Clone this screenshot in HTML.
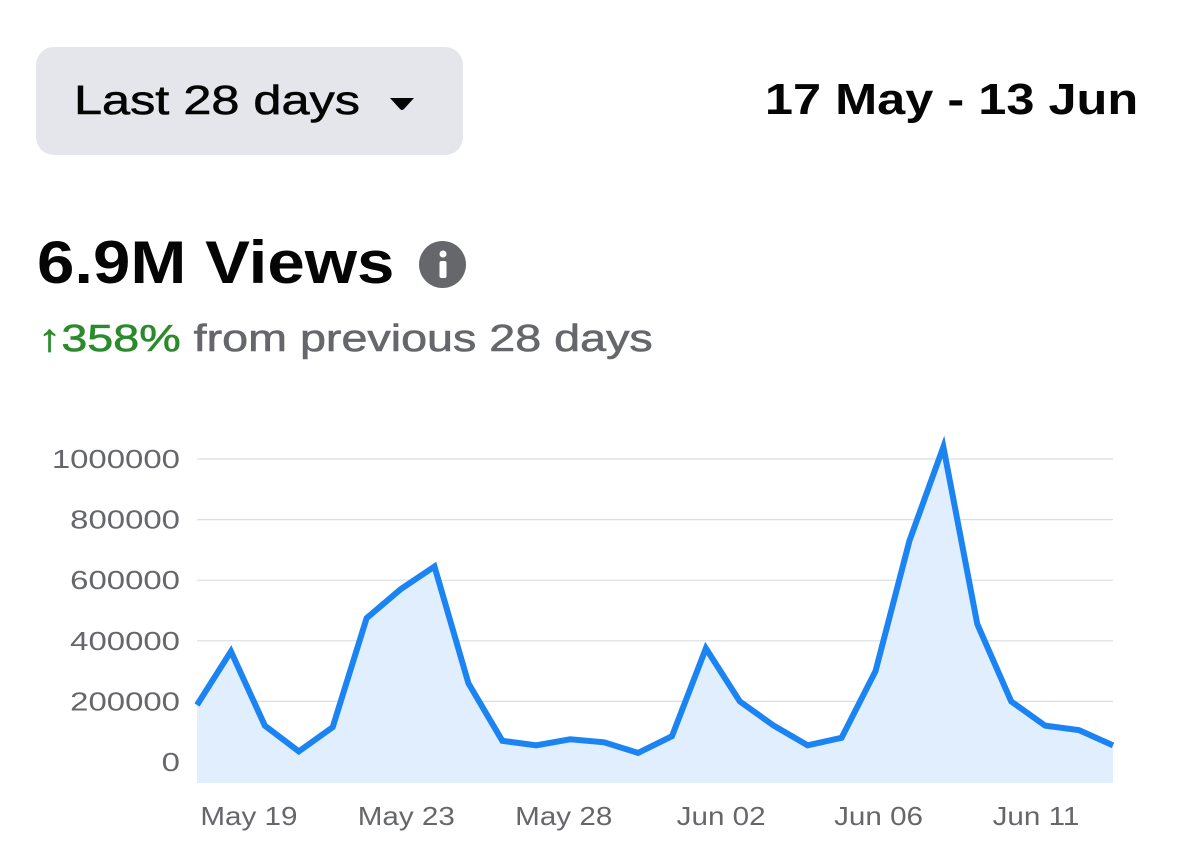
<!DOCTYPE html>
<html><head><meta charset="utf-8"><style>
body{margin:0;width:1179px;height:867px;background:#fff;font-family:"Liberation Sans",sans-serif;position:relative;overflow:hidden}
.abs{position:absolute;white-space:nowrap}
</style></head><body>
<div class="abs" style="left:36px;top:47px;width:427px;height:108px;background:#e4e6eb;border-radius:18px;">
  <span class="abs" style="left:38px;top:30px;font-size:41px;color:#050505;-webkit-text-stroke:0.6px #050505;transform:scaleX(1.23);transform-origin:0 0;">Last 28 days</span>
  <svg class="abs" style="left:352px;top:49px" width="28" height="16"><path d="M2 2 L26 2 L16 13 Q14 15 12 13 Z" fill="#050505"/></svg>
</div>
<div class="abs" style="right:41px;top:75px;font-size:44px;font-weight:bold;color:#050505;transform:scaleX(1.148);transform-origin:100% 0;">17 May - 13 Jun</div>
<div class="abs" style="left:37px;top:228px;font-size:60px;font-weight:bold;color:#050505;transform:scaleX(1.12);transform-origin:0 0;">6.9M Views</div>
<svg class="abs" style="left:419px;top:241px" width="47" height="47"><circle cx="23.5" cy="23.5" r="23.5" fill="#65676b"/><circle cx="24" cy="13" r="3.5" fill="#fff"/><rect x="20.5" y="20" width="7" height="17" rx="2" fill="#fff"/></svg>
<div class="abs" style="left:38px;top:318px;font-size:38px;color:#65676b;-webkit-text-stroke:0.6px #65676b;transform:scaleX(1.228);transform-origin:0 0;"><span style="color:#2b8a2b;-webkit-text-stroke:0.6px #2b8a2b">↑358%</span> from previous 28 days</div>
<svg class="abs" id="chart" style="left:0;top:400px" width="1179" height="467"></svg>
<script>
const categories=["May 17","May 18","May 19","May 20","May 21","May 22","May 23","May 24","May 25","May 26","May 27","May 28","May 29","May 30","May 31","Jun 01","Jun 02","Jun 03","Jun 04","Jun 05","Jun 06","Jun 07","Jun 08","Jun 09","Jun 10","Jun 11","Jun 12","Jun 13"];
const views=[188000,365000,120000,35000,115000,475000,570000,645000,260000,70000,55000,75000,65000,30000,85000,375000,200000,120000,55000,80000,300000,730000,1040000,455000,200000,120000,105000,55000];
const yTicks=[0,200000,400000,600000,800000,1000000];
const xTickLabels=["May 19","May 23","May 28","Jun 02","Jun 06","Jun 11"];
const NS="http://www.w3.org/2000/svg";
const svg=document.getElementById('chart');
const OY=400,x0=197,x1=1113;
const xs=i=>x0+i*(x1-x0)/(categories.length-1);
const ys=v=>762-OY-v/1e6*303;
function mk(t,a){const e=document.createElementNS(NS,t);for(const k in a)e.setAttribute(k,a[k]);svg.appendChild(e);return e;}
yTicks.forEach(v=>{
  const l=mk('line',{x1:x0,x2:x1,y1:ys(v),y2:ys(v),stroke:'#dadde1','stroke-width':1.2});
  
  
  const t=mk('text',{x:0,y:0,transform:'translate(180,'+(ys(v)+9)+') scale(1.267,1)','text-anchor':'end','font-size':26,fill:'#65676b'});
  t.textContent=v;
  
  
});
let d='';views.forEach((v,i)=>{d+=(i?'L':'M')+xs(i)+' '+ys(v);});
const area=mk('path',{d:d+'L'+x1+' '+(783-OY)+'L'+x0+' '+(783-OY)+'Z',fill:'#e1eefd'});


const line=mk('path',{d:d,fill:'none',stroke:'#1b84f2','stroke-width':6,'stroke-linejoin':'miter'});


xTickLabels.forEach((s,i)=>{
  const idx=1.5+i*4.64;
  const t=mk('text',{x:0,y:0,transform:'translate('+(xs(idx)+1)+',425) scale(1.14,1)','text-anchor':'middle','font-size':26,fill:'#65676b'});
  t.textContent=s;
  
  
});
</script>
</body></html>
